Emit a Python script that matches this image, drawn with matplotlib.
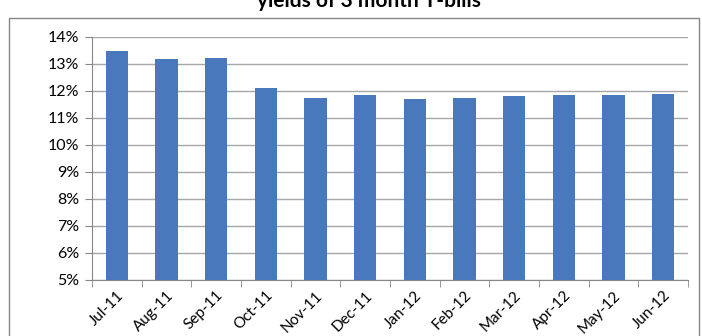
import matplotlib
matplotlib.use('Agg')
import matplotlib.pyplot as plt
from matplotlib.ticker import FuncFormatter, FixedLocator
from matplotlib.patches import Rectangle

months = ['Jul-11', 'Aug-11', 'Sep-11', 'Oct-11', 'Nov-11', 'Dec-11',
          'Jan-12', 'Feb-12', 'Mar-12', 'Apr-12', 'May-12', 'Jun-12']
yields = [13.48, 13.18, 13.22, 12.11, 11.74, 11.85,
          11.70, 11.74, 11.81, 11.85, 11.85, 11.89]
y_ticks = [5, 6, 7, 8, 9, 10, 11, 12, 13, 14]

plt.rcParams['font.family'] = ['Lato', 'DejaVu Sans']

fig = plt.figure(figsize=(7.02, 3.36), dpi=100)
ax = fig.add_axes([0.131, 0.1667, 0.849, 0.7233])

index = range(len(months))
ax.bar(index, yields, width=0.45, color='#4a78bd', zorder=3, bottom=0)

ax.set_ylim(5, 14)
ax.set_xlim(-0.5, len(months) - 0.5)
ax.set_yticks(y_ticks)
ax.yaxis.set_major_formatter(FuncFormatter(lambda v, p: '%d%%' % v))
ax.grid(axis='y', color='#a6a6a6', linewidth=1, zorder=0)

ax.set_xticks(list(index))
ax.set_xticklabels(months, rotation=45, ha='right', rotation_mode='anchor', fontsize=11)
ax.tick_params(axis='x', length=0, pad=6)
ax.xaxis.set_minor_locator(FixedLocator([i - 0.5 for i in range(len(months) + 1)]))
ax.tick_params(axis='x', which='minor', length=5, color='#868686')
ax.tick_params(axis='y', length=5, color='#868686', labelsize=11.5, pad=4)

for s in ['top', 'right']:
    ax.spines[s].set_visible(False)
for s in ['left', 'bottom']:
    ax.spines[s].set_color('#868686')

# outer chart border
fig.patches.append(Rectangle((9 / 702, -0.1), 690 / 702, 1.1 - 18 / 336,
                             transform=fig.transFigure, fill=False,
                             edgecolor='#868686', linewidth=1))

fig.text(0.525, 1 - 7 / 336, 'yields of 3 month T-bills', ha='center', va='baseline',
         fontsize=15, fontweight='bold')

plt.savefig('out.png', dpi=100)
